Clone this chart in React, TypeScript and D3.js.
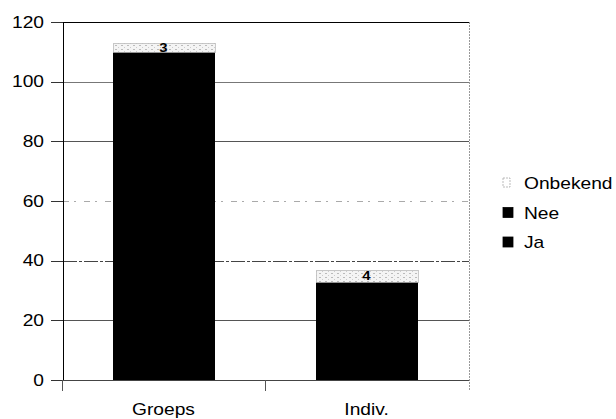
import React from "react";
import * as d3 from "d3";

const categories = ["Groeps", "Indiv."];
const seriesNames = ["Ja", "Nee", "Onbekend"];
const jaValues = [75, 27];
const neeValues = [35, 6];
const onbekendValues = [3, 4];
const yTicks = [0, 20, 40, 60, 80, 100, 120];
const legendOrder = ["Onbekend", "Nee", "Ja"];

const W = 616;
const H = 419;
const plot = { left: 63, right: 469, top: 22, bottom: 380 };
const FONT = "'Liberation Sans', Arial, sans-serif";

export default function App() {
  const x = d3
    .scaleBand<string>()
    .domain(categories)
    .range([plot.left - 1, plot.right - 1])
    .paddingInner(0.5)
    .paddingOuter(0.25);
  const xOuter = d3.scaleBand<string>().domain(categories).range([plot.left - 1, plot.right - 1]);
  const y = d3.scaleLinear().domain([0, 120]).range([plot.bottom, plot.top]);

  const rows = categories.map((c, i) => ({
    cat: c,
    Ja: jaValues[i],
    Nee: neeValues[i],
    Onbekend: onbekendValues[i],
  }));
  const stack = d3.stack<any>().keys(seriesNames)(rows);
  const fills: Record<string, string> = { Ja: "#000", Nee: "#000", Onbekend: "url(#dots)" };

  const gridStyle: Record<number, any> = {
    20: { stroke: "#555", dash: "" },
    40: { stroke: "#444", dash: "14 2 3 2" },
    60: { stroke: "#aaa", dash: "6 5 2 8" },
    80: { stroke: "#555", dash: "" },
    100: { stroke: "#777", dash: "" },
  };

  return (
    <div style={{ position: "fixed", left: 0, top: 0 }}>
      <svg width={W} height={H} style={{ display: "block", background: "#fff" }}>
        <defs>
          <pattern id="dots" width="6" height="4" patternUnits="userSpaceOnUse">
            <rect width="6" height="4" fill="#f4f4f4" />
            <rect x="1" y="1" width="2" height="1" fill="#bbb" />
            <rect x="4" y="3" width="1" height="1" fill="#ccc" />
          </pattern>
        </defs>

        {/* gridlines */}
        {yTicks
          .filter((t) => t > 0 && t < 120)
          .map((t) => (
            <line
              key={t}
              x1={plot.left}
              x2={plot.right}
              y1={Math.round(y(t)) + 0.5}
              y2={Math.round(y(t)) + 0.5}
              stroke={gridStyle[t].stroke}
              strokeDasharray={gridStyle[t].dash}
            />
          ))}
        {/* top border */}
        <line x1={plot.left} x2={plot.right} y1={plot.top + 0.5} y2={plot.top + 0.5} stroke="#000" />
        {/* right border */}
        <line
          x1={plot.right + 0.5}
          x2={plot.right + 0.5}
          y1={plot.top}
          y2={plot.bottom + 10}
          stroke="#999"
          strokeDasharray="2 1"
        />

        {/* bars */}
        {stack.map((s) =>
          s.map((d, i) => {
            const cat = categories[i];
            const y0 = Math.round(y(d[0]));
            const y1 = Math.round(y(d[1]));
            return (
              <rect
                key={s.key + cat}
                x={Math.round(x(cat) as number)}
                y={y1}
                width={Math.round(x.bandwidth())}
                height={y0 - y1 + (s.key === "Onbekend" ? 0 : 1)}
                fill={fills[s.key]}
                stroke={s.key === "Onbekend" ? "#bbb" : "none"}
                strokeWidth={0.8}
                shapeRendering="crispEdges"
              />
            );
          })
        )}

        {/* data labels for Onbekend */}
        {stack[2].map((d, i) => {
          const cat = categories[i];
          const cx = (x(cat) as number) + x.bandwidth() / 2;
          const cy = (y(d[0]) + y(d[1])) / 2;
          return (
            <text
              key={"lbl" + cat}
              transform={`translate(${cx},${cy + 4.5}) scale(1.15,1)`}
              textAnchor="middle"
              fontFamily={FONT}
              fontSize={13}
              fontWeight="bold"
              fill="#000"
            >
              {onbekendValues[i]}
            </text>
          );
        })}

        {/* y axis */}
        <line x1={plot.left + 0.5} x2={plot.left + 0.5} y1={plot.top} y2={plot.bottom} stroke="#000" />
        {yTicks.map((t) => (
          <g key={"yt" + t}>
            <line
              x1={51}
              x2={plot.left}
              y1={Math.round(y(t)) + 0.5}
              y2={Math.round(y(t)) + 0.5}
              stroke="#333"
            />
            <text
              transform={`translate(44,${y(t) + 5.5}) scale(1.2,1)`}
              textAnchor="end"
              fontFamily={FONT}
              fontSize={16}
              fill="#000"
            >
              {t}
            </text>
          </g>
        ))}

        {/* x axis */}
        <line x1={plot.left} x2={plot.right} y1={plot.bottom + 0.5} y2={plot.bottom + 0.5} stroke="#444" />
        {categories.map((c) => (
          <line
            key={"xt" + c}
            x1={(xOuter(c) as number) + 0.5}
            x2={(xOuter(c) as number) + 0.5}
            y1={plot.bottom}
            y2={plot.bottom + 11}
            stroke="#555"
          />
        ))}
        {categories.map((c) => (
          <text
            key={"xl" + c}
            transform={`translate(${(x(c) as number) + x.bandwidth() / 2},414.5) scale(1.2,1)`}
            textAnchor="middle"
            fontFamily={FONT}
            fontSize={16}
            fill="#000"
          >
            {c}
          </text>
        ))}

        {/* legend */}
        {legendOrder.map((name, i) => {
          const cy = 183 + i * 29.5;
          return (
            <g key={"lg" + name}>
              <rect
                x={503}
                y={cy - 5}
                width={name === "Onbekend" ? 7 : 10}
                height={name === "Onbekend" ? 9 : 10}
                fill={name === "Onbekend" ? "#fff" : "#000"}
                stroke={name === "Onbekend" ? "#aaa" : "#000"}
                strokeWidth={0.8}
                strokeDasharray={name === "Onbekend" ? "2 1" : ""}
              />
              <text
                transform={`translate(524,${cy + 6}) scale(1.2,1)`}
                fontFamily={FONT}
                fontSize={16}
                fill="#000"
              >
                {name}
              </text>
            </g>
          );
        })}
      </svg>
    </div>
  );
}
